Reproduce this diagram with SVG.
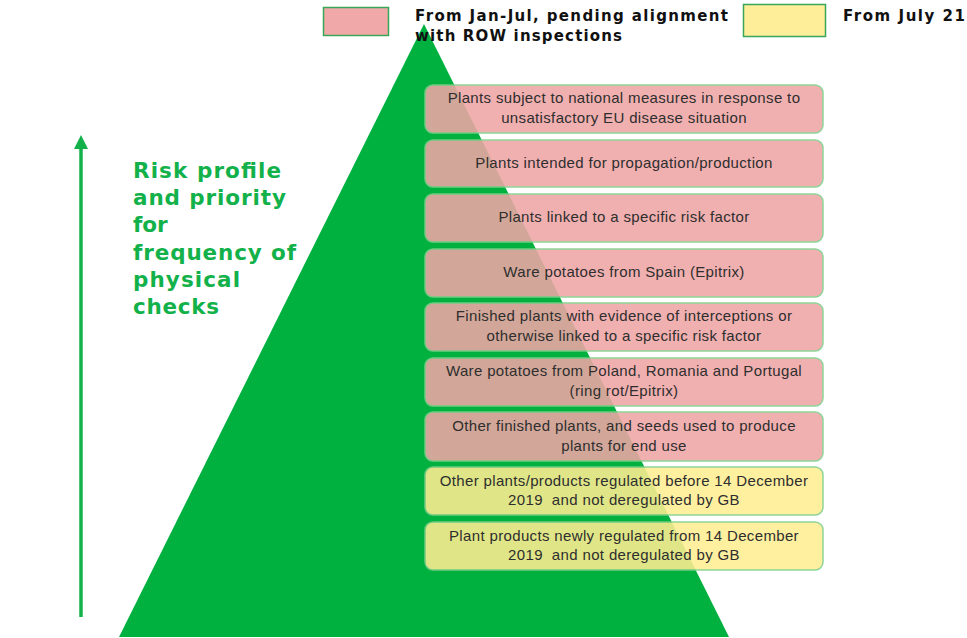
<svg xmlns="http://www.w3.org/2000/svg" width="967" height="638" viewBox="0 0 967 638">
<style>
.box{stroke:#7fcf8a;stroke-width:1.5;opacity:0.88}
.pink{fill:#f0a6a6}
.yel{fill:#ffee93}
.bt{font-family:"Liberation Sans",Arial,sans-serif;font-size:15px;letter-spacing:0.35px;fill:#2e2e2e;text-anchor:middle}
.leg{font-family:"DejaVu Sans",Verdana,sans-serif;font-weight:bold;font-size:15px;fill:#111}
.head{font-family:"DejaVu Sans",Verdana,sans-serif;font-weight:bold;font-size:21.5px;fill:#12b14a}
</style>
<defs>
<marker id="ah" markerWidth="4" markerHeight="4" refX="2" refY="2" orient="auto" markerUnits="strokeWidth">
<path d="M0,0 L4,2 L0,4 Z" fill="#12b14a"/>
</marker>
</defs>
<rect width="967" height="638" fill="#fff"/>
<g id="pyramid"><polygon points="424,24 729,637 119,637" fill="#00b140"/></g>
<g id="connectors">
<line x1="81" y1="617" x2="81" y2="142" stroke="#12b14a" stroke-width="3.5" marker-end="url(#ah)"/>
</g>
<g id="heading">
<text class="head" x="133" y="178" textLength="148" lengthAdjust="spacing">Risk profile</text>
<text class="head" x="133" y="205" textLength="153" lengthAdjust="spacing">and priority</text>
<text class="head" x="133" y="232">for</text>
<text class="head" x="133" y="260" textLength="163" lengthAdjust="spacing">frequency of</text>
<text class="head" x="133" y="287" textLength="107" lengthAdjust="spacing">physical</text>
<text class="head" x="133" y="314" textLength="86" lengthAdjust="spacing">checks</text>
</g>
<g id="legend">
<rect x="323.5" y="7.5" width="65" height="28" fill="#f0a8a8" stroke="#3aa65a" stroke-width="1.5"/>
<text class="leg" x="415" y="21" textLength="313" lengthAdjust="spacing">From Jan-Jul, pending alignment</text>
<text class="leg" x="415" y="41" textLength="207" lengthAdjust="spacing">with ROW inspections</text>
<rect x="743.5" y="4.5" width="82" height="32" fill="#ffee99" stroke="#3aa65a" stroke-width="1.5"/>
<text class="leg" x="843" y="21" textLength="122" lengthAdjust="spacing">From July 21</text>
</g>
<g id="n1"><rect class="box pink" x="425" y="85" width="398" height="48" rx="8"/>
<text class="bt" x="624" y="103">Plants subject to national measures in response to</text>
<text class="bt" x="624" y="123">unsatisfactory EU disease situation</text></g>
<g id="n2"><rect class="box pink" x="425" y="140" width="398" height="47" rx="8"/>
<text class="bt" x="624" y="168">Plants intended for propagation/production</text></g>
<g id="n3"><rect class="box pink" x="425" y="194" width="398" height="48" rx="8"/>
<text class="bt" x="624" y="222">Plants linked to a specific risk factor</text></g>
<g id="n4"><rect class="box pink" x="425" y="249" width="398" height="48" rx="8"/>
<text class="bt" x="624" y="277">Ware potatoes from Spain (Epitrix)</text></g>
<g id="n5"><rect class="box pink" x="425" y="303" width="398" height="48" rx="8"/>
<text class="bt" x="624" y="321">Finished plants with evidence of interceptions or</text>
<text class="bt" x="624" y="341">otherwise linked to a specific risk factor</text></g>
<g id="n6"><rect class="box pink" x="425" y="358" width="398" height="48" rx="8"/>
<text class="bt" x="624" y="376">Ware potatoes from Poland, Romania and Portugal</text>
<text class="bt" x="624" y="396">(ring rot/Epitrix)</text></g>
<g id="n7"><rect class="box pink" x="425" y="412" width="398" height="49" rx="8"/>
<text class="bt" x="624" y="431">Other finished plants, and seeds used to produce</text>
<text class="bt" x="624" y="451">plants for end use</text></g>
<g id="n8"><rect class="box yel" x="425" y="467" width="398" height="48" rx="8"/>
<text class="bt" x="624" y="486">Other plants/products regulated before 14 December</text>
<text class="bt" x="624" y="505">2019&#160; and not deregulated by GB</text></g>
<g id="n9"><rect class="box yel" x="425" y="522" width="398" height="48" rx="8"/>
<text class="bt" x="624" y="541">Plant products newly regulated from 14 December</text>
<text class="bt" x="624" y="560">2019&#160; and not deregulated by GB</text></g>
</svg>
